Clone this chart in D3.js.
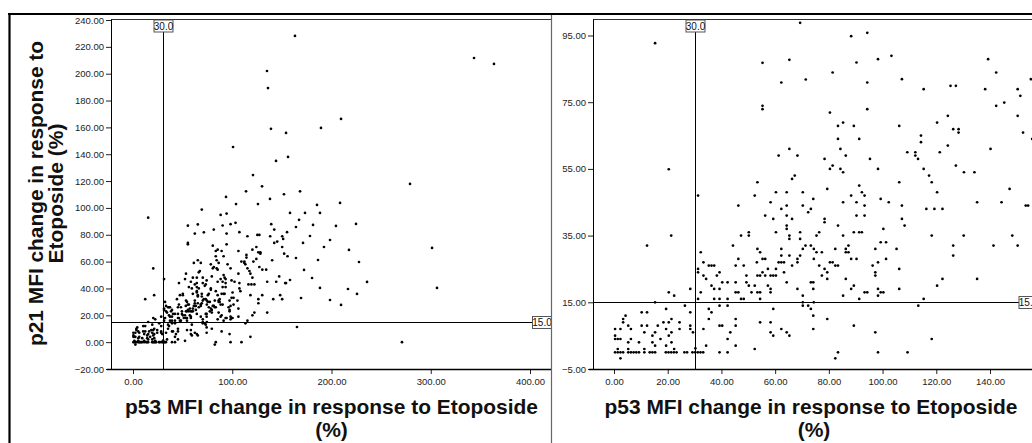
<!DOCTYPE html>
<html><head><meta charset="utf-8">
<script src="https://cdn.jsdelivr.net/npm/d3@7"></script>
<style>body{margin:0;background:#fff}svg{display:block}text{font-family:"Liberation Sans",Arial,sans-serif}</style>
</head><body><svg id="c" width="1032" height="443"></svg>
<script>
// [p53 MFI change %, p21 MFI change %]
const points = [
[15.3,92.7],[20.4,54.9],[69.3,98.8],[55.3,86.8],[65.3,87.7],[71.4,81.8],[62.3,80.9],[55.3,73.9],[55.3,72.9],[65.3,61],[61.3,59],[68.3,59],[67.3,53],[66.3,52],[53.4,51],[60.3,48],[64.3,48],[70.3,48],
[88.3,94.8],[94.3,95.8],[103.3,88.9],[98.3,87.9],[90.3,86.9],[81.4,83.9],[107.2,81.9],[94.3,80.9],[115.3,78.9],[125.3,79.9],[127.3,79.9],[139.3,87.9],[142.3,83.9],[155.2,81.9],[138.2,78.9],[150.3,78.9],[151.3,76.9],[145.3,74.9],[142.3,73.9],[150.3,70.9],[80.4,71.9],[94.3,72.9],[85.3,68.9],[83.4,67.9],[89.3,67.9],[106.2,67.9],[120.3,68.9],[124.3,70.9],[126.3,66.9],[128.3,66.9],[128.3,65.9],[152.3,65.9],[114.3,65],[114.3,63],[83.4,64],[91.3,64],[84.3,61],[86.3,59],[78.4,58],[95.3,58],[109.2,60],[112.2,60],[112.2,59],[113.2,58],[121.3,60],[124.3,62],[140.2,61],[81.4,56],[80.4,55],[84.3,55],[85.3,54],[98.3,55],[115.3,55],[117.3,53],[118.3,51],[127.3,56],[130.3,54],[134.2,54],[106.2,51],[91.3,50],[92.3,48],[79.4,49],[120.3,48],[147.3,49],[155.7,64],
[31.3,47],[52.4,47],[46.3,44],[58.3,45],[62.3,43],[64.3,44],[70.3,44],[74.2,46],[72.3,42],[73.3,43],[56.3,41],[59.3,40],[64.3,41],[66.3,40],[64.3,38],[64.3,37],[60.3,36],[65.3,35],[65.3,34],[69.3,36],[69.3,34],[50.2,36],[50.2,35],[47.3,35],[21.3,35],[12.3,32],[44.3,32],[62.3,31],[70.3,31],[71.3,32],[73.3,32],[69.3,29],[65.3,29],[68.3,28],[68.3,27],[66.3,26],[61.3,27],[62.3,27],[63.3,27],[62.3,29],[53.4,31],[54.4,30],[55.3,28],[56.3,28],[53.2,27],[46.3,28],[45.3,26],[48.3,26],[32.3,30],[33.3,27],[35.3,26],[36.3,26],[37.3,26],[31.3,25],[31.3,24],[33.3,23],[34.3,22],[39.3,24],[38.3,23],[40.3,21],[42.3,21],[36.3,20],[37.3,19],[39.3,19],[45.3,21],[49.3,23],[49.3,21],[50.2,20],[52.4,20],[53.4,23],[54.4,23],[55.3,24],[56.3,23],[57.3,25],[58.3,23],[59.3,23],[60.3,23],[60.3,25],[63.3,24],[57.3,20],[58.3,19],[58.3,18],[64.3,21],[68.3,19],[73.3,21],[74.2,21],[70.3,17],[74.2,19],[28.4,19],[20.4,18],[22.4,17],[32.3,18],[31.3,16],[37.3,16],[39.3,16],[42.3,16],[47.3,16],[48.3,16],[54.4,16],[45.3,18],[46.3,18],[53.4,18],[54.4,18],[51.2,18],[70.3,15],[70.3,14],[72.3,14],[73.3,13],[74.2,11],[74.2,7],[15.3,15],[26.4,14],[39.3,14],[42.3,14],[35.3,13],[36.3,12],[35.3,10],[19.4,13],[28.4,12],[59.3,13],[54.4,9],[58.3,9],[45.3,10],[45.3,8],[39.3,8],[40.3,8],[43.3,6],[42.3,4],[45.3,2],[34.3,2],[52.4,1],[58.3,6],[59.3,5],[62.3,7],[64.3,6],[65.3,5],[33.3,7],[29.4,6],[28.4,8],[28.4,7],[24.4,9],[24.4,7],[21.4,10],[20.4,9],[18.4,9],[19.4,7],[21.4,6],[20.4,5],[21.4,3],[19.4,2],[22.4,1],[16.3,8],[17.3,4],[15.3,6],[15.3,2],[14.3,5],[14.3,3],[11.3,6],[10.3,8],[12.3,8],[10.3,12],[12.3,12],[11.3,1],[9.3,3],[5.3,8],[6.3,7],[3.4,10],[3.4,9],[4.3,11],[0.4,7],[2.4,7],[0.4,5],[0.4,4],[1.4,4],[2.4,4],[6.3,4],[5.3,3],[1.4,1],[5.3,1],[2.4,-1.8],[30.3,1.2],
[0.4,0],[1.4,0],[2.4,0],[3.4,0],[5.3,0],[6.3,0],[7.3,0],[8.3,0],[9.3,0],[11.3,0],[13.3,0],[14.3,0],[15.3,0],[19.3,0],[20.3,0],[21.3,0],[22.3,0],[23.3,0],[26.2,0],[27.2,0],[29.2,0],[30.2,0],[31.2,0],[32.2,0],[33.2,0],[39.3,0],[42.3,0],
[88.3,47],[93.3,47],[99.3,46],[85.3,45],[90.3,45],[93.3,44],[102.3,45],[107.2,44],[116.3,43],[119.3,43],[122.3,43],[135.2,45],[144.3,45],[153.3,44],[154.2,44],[90.3,41],[93.3,41],[107.2,40],[108.2,38],[100.3,37],[78.4,40],[78.4,39],[83.4,38],[76.4,36],[75.4,35],[85.3,35],[89.3,36],[91.3,36],[92.3,36],[118.3,35],[130.2,35],[148.3,35],[126.3,32],[126.3,29],[141.3,32],[150.3,32],[99.3,33],[101.3,33],[87.3,32],[86.3,31],[86.3,30],[87.3,30],[82.4,31],[74.4,31],[75.4,30],[77.4,30],[97.3,31],[105.2,31],[74.4,28],[88.3,28],[90.3,28],[101.3,28],[98.3,27],[96.3,26],[80.4,27],[81.4,27],[82.4,26],[83.4,26],[76.4,26],[78.4,25],[79.4,24],[77.4,23],[79.4,22],[97.3,24],[97.3,23],[106.2,25],[86.3,22],[89.3,20],[88.3,19],[93.3,18],[94.3,18],[98.3,19],[99.3,18],[100.3,18],[98.3,17],[85.3,17],[91.3,16],[106.2,19],[122.3,22],[120.3,20],[135.2,22],[115.3,16],[113.3,14],[74.4,15],[79.4,10],[89.3,8],[97.3,6],[118.3,4],[83.4,0],[98.3,0],[109.3,0],[82.4,-1.8],
[163.2,228.1],[343.6,211.7],[363.7,207.3],[135.0,202.0],[136.0,189.3],[209.6,166.3],[189.4,159.6],[139.0,158.9],[154.2,155.9],[156.2,138.0],[279.1,117.9],[301.3,70.2],[306.3,40.4],[271.0,0],
[100.8,145.4],[144.1,135.0],[120.9,124.5],[130.0,116.1],[113.9,112.4],[152.1,110.2],[168.3,112.4],[125.9,102.9],[138.0,106.7],[93.7,108.2],[103.8,102.9],
[185.4,102.2],[188.4,96.3],[173.3,96.3],[167.3,91.1],[181.4,87.3],[192.4,70.9],[198.5,76.1],[204.5,86.6],[208.6,103.7],[217.6,68.7],[224.7,88.1],[227.7,59.7],[216.6,39.6],[225.7,35.9],[164.2,62.7],[171.3,73.9],[178.3,79.1],[164.2,85.8],[158.2,96.3],[186.4,61.2],[169.3,32.9],[180.4,47.8],[188.4,40.4],[198.5,31.4],[209.6,27.7],[172.3,53.8],[158.2,46.3],[165.2,11.3],[235.8,44.9]
];
const leftXTicks = [0,100,200,300,400];
const leftYTicks = [-20,0,20,40,60,80,100,120,140,160,180,200,220,240];
const rightXTicks = [0,20,40,60,80,100,120,140];
const rightYTicks = [-5,15,35,55,75,95];
const refX = 30, refY = 15;
const xTitle = "p53 MFI change in response to Etoposide";
const yTitle1 = "p21 MFI change in response to", yTitle2 = "Etoposide (%)";

const svg = d3.select("#c");
const fmt = d3.format(".2f");

const panels = [
  {id:"L", left:111, right:551.5, top:19.5, bottom:369,
   x:d3.scaleLinear().domain([0,400]).range([133,530]),
   y:d3.scaleLinear().domain([-20,240]).range([369,20]),
   xt:leftXTicks, yt:leftYTicks, titleX:331.5, pctX:331.5},
  {id:"R", left:593, right:1038, top:19.5, bottom:369,
   x:d3.scaleLinear().domain([0,140]).range([614,990]),
   y:d3.scaleLinear().domain([-5,95]).range([369,35.5]),
   xt:rightXTicks, yt:rightYTicks, titleX:811, pctX:814}
];

const defs = svg.append("defs");
panels.forEach(p=>{
  defs.append("clipPath").attr("id","clip"+p.id).append("rect")
    .attr("x",p.left).attr("y",p.top).attr("width",p.right-p.left).attr("height",p.bottom-p.top);
  const g = svg.append("g");
  // frame top
  g.append("line").attr("x1",p.left).attr("x2",p.right).attr("y1",p.top).attr("y2",p.top).attr("stroke","#333").attr("stroke-width",1);
  // y axis
  const ya = g.append("g").attr("transform",`translate(${p.left},0)`)
    .call(d3.axisLeft(p.y).tickValues(p.yt).tickFormat(fmt).tickSize(5).tickSizeOuter(0).tickPadding(2));
  ya.select(".domain").remove();
  ya.selectAll("text").attr("font-size","9.5px").attr("fill","#222").style("font-family","'Liberation Sans',Arial,sans-serif");
  ya.selectAll("line").attr("stroke","#222");
  g.append("line").attr("x1",p.left+0.5).attr("x2",p.left+0.5).attr("y1",p.top).attr("y2",p.bottom).attr("stroke","#000");
  // x axis
  const xa = g.append("g").attr("transform",`translate(0,${p.bottom})`)
    .call(d3.axisBottom(p.x).tickValues(p.xt).tickFormat(fmt).tickSize(5).tickSizeOuter(0).tickPadding(4));
  xa.select(".domain").remove();
  xa.selectAll("text").attr("font-size","9.5px").attr("fill","#222").style("font-family","'Liberation Sans',Arial,sans-serif");
  xa.selectAll("line").attr("stroke","#222");
  g.append("line").attr("x1",p.left-4).attr("x2",p.right).attr("y1",p.bottom+0.5).attr("y2",p.bottom+0.5).attr("stroke","#000").attr("stroke-width",1.3);

  // reference lines
  const rx = Math.round(p.x(refX))+0.5, ry = Math.round(p.y(refY))+0.5;
  const pg = g.append("g").attr("clip-path",`url(#clip${p.id})`);
  pg.append("line").attr("x1",rx).attr("x2",rx).attr("y1",p.top+12).attr("y2",p.bottom).attr("stroke","#000");
  pg.append("line").attr("x1",p.left).attr("x2",p.right-19).attr("y1",ry).attr("y2",ry).attr("stroke","#000");
  // points
  pg.selectAll("circle").data(points).join("circle")
    .attr("cx",d=>p.x(d[0])).attr("cy",d=>p.y(d[1])).attr("r",1.35).attr("fill","#000");
  // labels
  const lab = (cx,cy,txt)=>{
    pg.append("rect").attr("x",cx-9.5).attr("y",cy-6).attr("width",19).attr("height",12)
      .attr("fill","#fff").attr("stroke","#555").attr("stroke-width",1);
    pg.append("text").attr("x",cx).attr("y",cy+3.5).attr("text-anchor","middle")
      .attr("font-size","10px").attr("fill","#111").text(txt);
  };
  lab(rx, p.top+6.5, refX.toFixed(1));
  lab(p.right-9.5, ry, refY.toFixed(1));

  // x title
  g.append("text").attr("x",p.titleX).attr("y",414).attr("text-anchor","middle")
    .attr("font-size","21px").attr("font-weight","bold").attr("fill","#111")
    .attr("textLength",413).attr("lengthAdjust","spacingAndGlyphs").text(xTitle);
  g.append("text").attr("x",p.pctX).attr("y",437).attr("text-anchor","middle")
    .attr("font-size","21px").attr("font-weight","bold").attr("fill","#111").text("(%)");
});

// left y title
const yt = svg.append("g").attr("transform","translate(0,193.5) rotate(-90)");
yt.append("text").attr("x",0).attr("y",43).attr("text-anchor","middle").attr("font-size","21px")
  .attr("font-weight","bold").attr("fill","#111").attr("textLength",305).attr("lengthAdjust","spacingAndGlyphs").text(yTitle1);
yt.append("text").attr("x",0).attr("y",63).attr("text-anchor","middle").attr("font-size","21px")
  .attr("font-weight","bold").attr("fill","#111").text(yTitle2);

// outer frames
svg.append("line").attr("x1",8).attr("x2",1032).attr("y1",14).attr("y2",14).attr("stroke","#000").attr("stroke-width",2.2);
svg.append("line").attr("x1",9.5).attr("x2",9.5).attr("y1",13).attr("y2",443).attr("stroke","#000").attr("stroke-width",2.2);
svg.append("line").attr("x1",551.5).attr("x2",551.5).attr("y1",15).attr("y2",443).attr("stroke","#666").attr("stroke-width",1.2);
</script></body></html>
